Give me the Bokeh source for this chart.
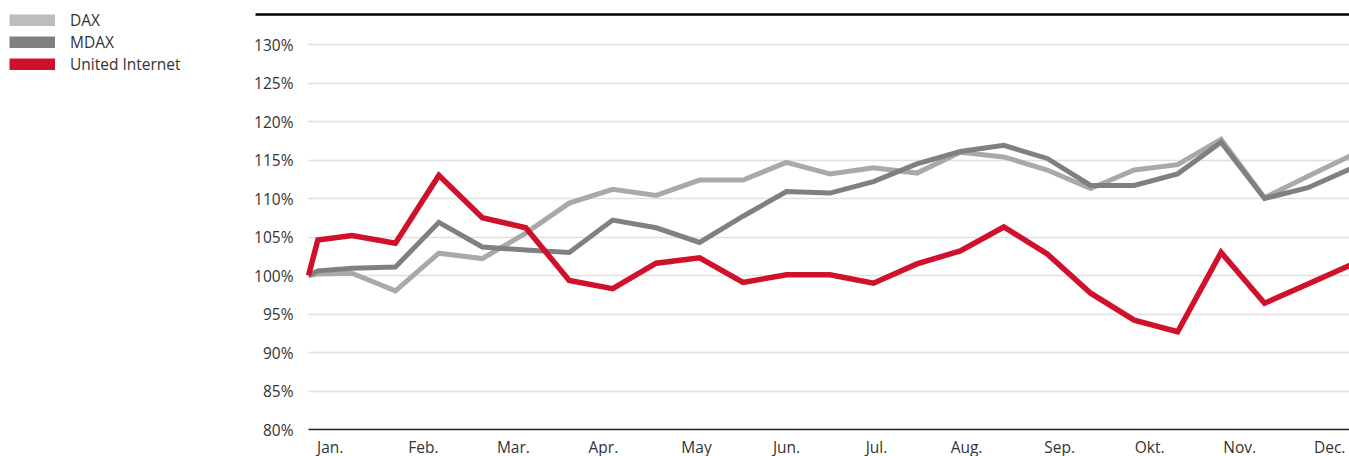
from bokeh.plotting import figure
from bokeh.models import (Range1d, FixedTicker, PrintfTickFormatter, Legend,
                          LegendItem, BoxAnnotation)
from bokeh.embed import file_html
from bokeh.resources import INLINE

# ---- data (indexed performance, start of year = 100 %) ----
days = [0, 3, 14, 28, 42, 56, 70, 84, 98, 112, 126, 140, 154, 168, 182, 196,
        210, 224, 238, 252, 266, 280, 294, 308, 322, 336]
dax = [100.0, 100.2, 100.3, 98.0, 102.9, 102.2, 105.5, 109.4, 111.2, 110.4,
       112.4, 112.4, 114.7, 113.2, 114.0, 113.3, 116.0, 115.4, 113.7, 111.3,
       113.7, 114.4, 117.7, 110.1, 112.9, 115.6]
mdax = [100.0, 100.6, 100.95, 101.1, 106.9, 103.7, 103.3, 103.0, 107.2, 106.2,
        104.3, 107.7, 110.9, 110.7, 112.2, 114.5, 116.1, 116.9, 115.2, 111.7,
        111.7, 113.2, 117.3, 110.0, 111.4, 113.9]
united = [100.0, 104.6, 105.2, 104.2, 113.0, 107.5, 106.2, 99.35, 98.3, 101.6,
          102.3, 99.1, 100.1, 100.1, 99.0, 101.5, 103.2, 106.3, 102.8, 97.7,
          94.2, 92.7, 103.0, 96.4, 98.9, 101.4]
months = ["Jan.", "Feb.", "Mar.", "Apr.", "May", "Jun.", "Jul.", "Aug.",
          "Sep.", "Okt.", "Nov.", "Dec."]
y_ticks = [80, 85, 90, 95, 100, 105, 110, 115, 120, 125, 130]
series_names = ["DAX", "MDAX", "United Internet"]

# ---- styling ----
FONT = "Open Sans"
FS = "15.5px"
TXT = "#333333"
C_DAX = "#a9a9a9"
C_MDAX = "#808080"
C_UI = "#d0112b"
LEG_COLORS = ["#bdbdbd", "#808080", "#d0112b"]

W, H = 1349, 456
PLOT_LEFT = 308      # canvas x where the data area begins
RULE_LEFT = 255      # canvas x where the heavy top rule begins
Y80 = 429            # canvas y of the 80 % baseline
PX_PCT = 7.7         # pixels per percentage point
px_per_day = 3.104

x_start = -PLOT_LEFT / px_per_day
x_end = (W - PLOT_LEFT) / px_per_day
y_start = 80 - (H - Y80) / PX_PCT
y_end = 80 + Y80 / PX_PCT

p = figure(width=W, height=H, x_range=Range1d(x_start, x_end),
           y_range=Range1d(y_start, y_end), output_backend="svg",
           toolbar_location=None, min_border_left=0, min_border_right=0,
           min_border_top=0, min_border_bottom=0)
p.outline_line_color = None
p.background_fill_color = "white"
p.border_fill_color = "white"

# gridlines (only across the data area)
p.xgrid.visible = False
p.ygrid.ticker = FixedTicker(ticks=y_ticks)
p.ygrid.grid_line_color = "#e0e0e0"
p.ygrid.grid_line_width = 1.5
p.add_layout(BoxAnnotation(right=0, fill_color="white", fill_alpha=1,
                           line_color=None, level="underlay"))
p.add_layout(BoxAnnotation(top=80, fill_color="white", fill_alpha=1,
                           line_color=None, level="underlay"))

# lines
p.line(days, dax, line_width=5, color=C_DAX, line_join="miter")
p.line(days, mdax, line_width=5, color=C_MDAX, line_join="miter")
p.line(days, united, line_width=5.5, color=C_UI, line_join="miter")

# axes
tick_pos = [round(7.4 + 29.28 * i) for i in range(12)]
p.xaxis.fixed_location = 80
p.xaxis.ticker = FixedTicker(ticks=tick_pos)
p.xaxis.major_label_overrides = {t: m for t, m in zip(tick_pos, months)}
p.xaxis.bounds = (0, x_end)
p.xaxis.axis_line_color = "#222222"
p.xaxis.axis_line_width = 1.5
p.xaxis.major_tick_line_color = None
p.xaxis.minor_tick_line_color = None
p.xaxis.major_label_standoff = 0
p.xaxis.major_label_text_font = FONT
p.xaxis.major_label_text_font_size = FS
p.xaxis.major_label_text_color = TXT

p.yaxis.fixed_location = 0
p.yaxis.ticker = FixedTicker(ticks=y_ticks)
p.yaxis.formatter = PrintfTickFormatter(format="%d%%")
p.yaxis.axis_line_color = None
p.yaxis.major_tick_line_color = None
p.yaxis.minor_tick_line_color = None
p.yaxis.major_label_standoff = 9
p.yaxis.major_label_text_font = FONT
p.yaxis.major_label_text_font_size = FS
p.yaxis.major_label_text_color = TXT

# legend (swatches from off-screen single-point line renderers)
items = []
for name, col in zip(series_names, LEG_COLORS):
    r = p.line([x_start - 100], [50], line_width=12, color=col)
    items.append(LegendItem(label=name, renderers=[r]))
legend = Legend(items=items, glyph_width=46, glyph_height=12,
                label_standoff=15, padding=0, margin=9,
                spacing=0, label_height=16, border_line_color=None,
                background_fill_alpha=0, label_text_font=FONT,
                label_text_font_size=FS, label_text_color=TXT,
                location="top_left")
p.add_layout(legend, "center")

# heavy rule at top
rule_left = x_start + RULE_LEFT / px_per_day
p.add_layout(BoxAnnotation(left=rule_left,
                           top=80 + (Y80 - 12.7) / PX_PCT,
                           bottom=80 + (Y80 - 15.3) / PX_PCT,
                           fill_color="black", fill_alpha=1, line_color=None))

open("out.html", "w").write(file_html(p, INLINE))
